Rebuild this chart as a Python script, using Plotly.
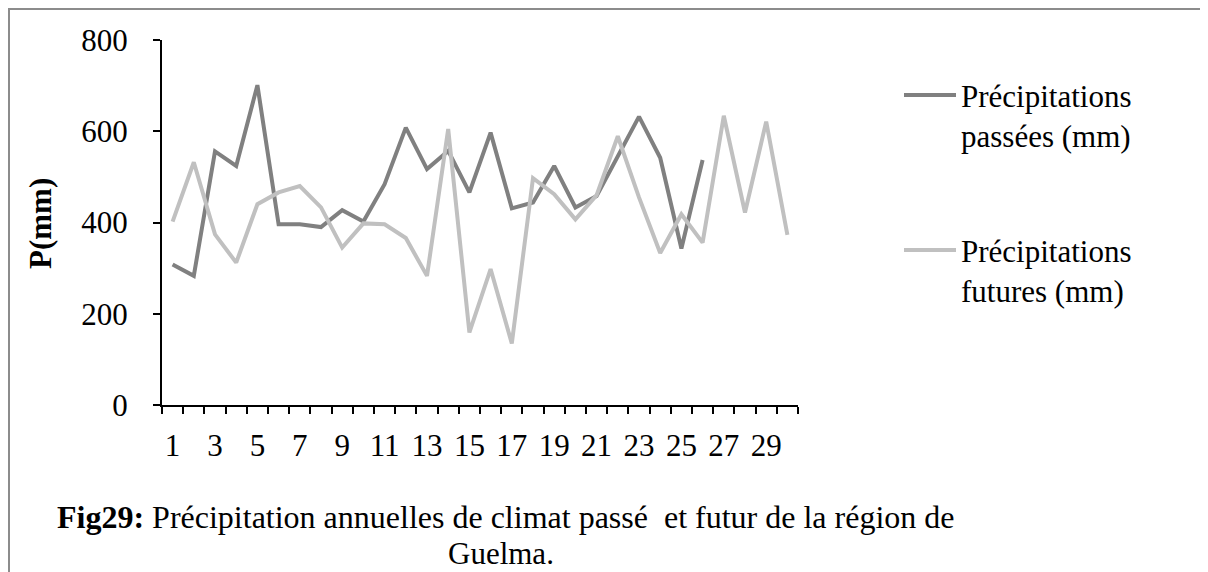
import plotly.graph_objects as go

# Years 1..30
years = list(range(1, 31))

# Past precipitation (mm), 26 years
past_mm = [308, 283, 556, 524, 701, 396, 396, 390, 427, 402,
           484, 608, 517, 557, 466, 597, 431, 444, 524, 433,
           458, 545, 632, 542, 343, 537]

# Future precipitation (mm), 30 years
future_mm = [402, 532, 374, 312, 440, 466, 480, 433, 345, 398,
             396, 366, 283, 605, 159, 298, 135, 497, 462, 407,
             460, 589, 455, 333, 418, 356, 634, 422, 621, 373]

series_names = ["Précipitations<br>passées (mm)", "Précipitations<br>futures (mm)"]
series_colors = ["#808080", "#C0C0C0"]

tick_years = list(range(1, 30, 2))
y_ticks = [0, 200, 400, 600, 800]

FONT = "Liberation Serif, Times New Roman, serif"

# plot area in pixels
W, H = 1208, 572
L, R, T, B = 154, 790, 32, 397


def px_x(px):
    return (px - L) / (R - L)


def px_y(py):
    return (B - py) / (B - T)


fig = go.Figure()

fig.add_trace(go.Scatter(
    x=years[:len(past_mm)], y=past_mm,
    mode="lines", name=series_names[0],
    line=dict(color=series_colors[0], width=4),
))
fig.add_trace(go.Scatter(
    x=years, y=future_mm,
    mode="lines", name=series_names[1],
    line=dict(color=series_colors[1], width=4),
))

fig.update_layout(
    width=W, height=H,
    margin=dict(l=L, r=W - R, t=T, b=H - B),
    paper_bgcolor="white",
    plot_bgcolor="white",
    font=dict(family=FONT, size=31, color="black"),
    showlegend=False,
    xaxis=dict(
        range=[0.5, 30.5],
        tickvals=tick_years,
        ticktext=[str(v) for v in tick_years],
        ticks="",
        ticklabelstandoff=12,
        showgrid=False,
        zeroline=False,
        showline=True, linecolor="black", linewidth=2,
        tickfont=dict(family=FONT, size=31),
        minor=dict(tickvals=[v + 0.5 for v in range(0, 31)],
                   ticks="outside", ticklen=7, tickwidth=2,
                   tickcolor="black", showgrid=False),
    ),
    yaxis=dict(
        range=[0, 800],
        tickvals=y_ticks,
        ticks="outside", ticklen=7, tickwidth=2, tickcolor="black",
        ticklabelstandoff=19,
        showgrid=False,
        zeroline=False,
        showline=True, linecolor="black", linewidth=2,
        tickfont=dict(family=FONT, size=31),
    ),
)

# y axis title
fig.add_annotation(
    x=px_x(32), y=px_y(215), xref="paper", yref="paper",
    text="<b>P(mm)</b>", textangle=-90, showarrow=False,
    font=dict(family=FONT, size=31),
    xanchor="center", yanchor="middle",
)

# legend drawn on the right: line sample + two-line label
legend_rows = [87, 242]
for name, color, row in zip(series_names, series_colors, legend_rows):
    fig.add_shape(
        type="line", xref="paper", yref="paper",
        x0=px_x(896), x1=px_x(948), y0=px_y(row), y1=px_y(row),
        line=dict(color=color, width=4),
    )
    fig.add_annotation(
        x=px_x(951), y=px_y(row + 21), xref="paper", yref="paper",
        text=name, showarrow=False, align="left",
        font=dict(family=FONT, size=31),
        xanchor="left", yanchor="middle",
    )

# caption below the chart
fig.add_annotation(
    x=px_x(497), y=px_y(509), xref="paper", yref="paper",
    text="<b>Fig29:</b> Précipitation annuelles de climat passé  et futur de la région de",
    showarrow=False, font=dict(family=FONT, size=32),
    xanchor="center", yanchor="middle",
)
fig.add_annotation(
    x=px_x(493), y=px_y(545), xref="paper", yref="paper",
    text="Guelma.",
    showarrow=False, font=dict(family=FONT, size=31),
    xanchor="center", yanchor="middle",
)

# grey frame around the whole picture
fig.add_shape(
    type="rect", xref="paper", yref="paper",
    x0=px_x(1), x1=px_x(W - 1), y0=px_y(H - 1), y1=px_y(1),
    line=dict(color="#8c8c8c", width=2),
)

fig.write_html("out.html")
